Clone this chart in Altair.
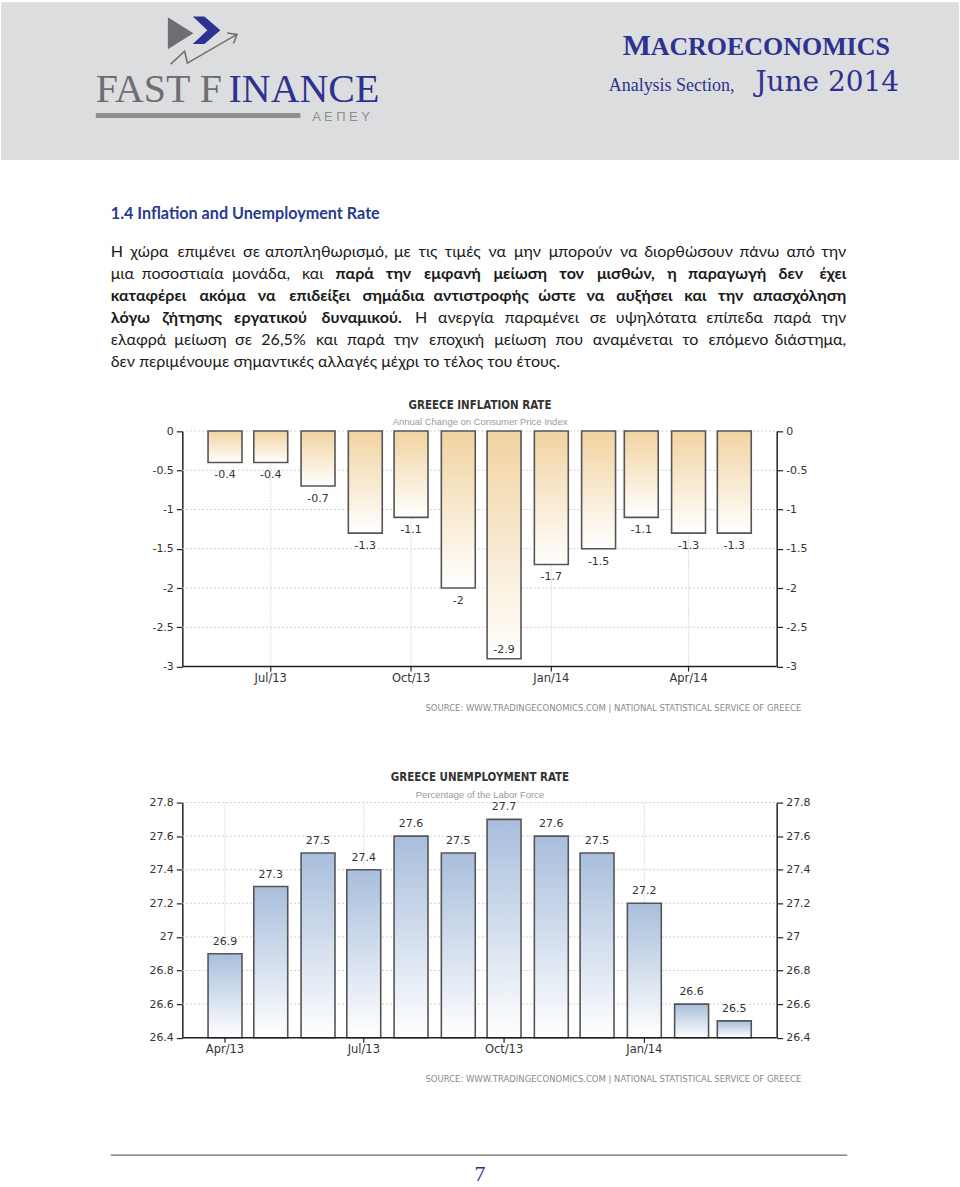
import altair as alt
import pandas as pd

# ---------------- data ----------------
infl_dates = ["2013-06-01", "2013-07-01", "2013-08-01", "2013-09-01", "2013-10-01", "2013-11-01",
              "2013-12-01", "2014-01-01", "2014-02-01", "2014-03-01", "2014-04-01", "2014-05-01"]
infl_values = [-0.4, -0.4, -0.7, -1.3, -1.1, -2.0, -2.9, -1.7, -1.5, -1.1, -1.3, -1.3]
infl_yticks = [0, -0.5, -1, -1.5, -2, -2.5, -3]
infl_xticks = ["2013-07-01", "2013-10-01", "2014-01-01", "2014-04-01"]

unemp_dates = ["2013-04-01", "2013-05-01", "2013-06-01", "2013-07-01", "2013-08-01", "2013-09-01",
               "2013-10-01", "2013-11-01", "2013-12-01", "2014-01-01", "2014-02-01", "2014-03-01"]
unemp_values = [26.9, 27.3, 27.5, 27.4, 27.6, 27.5, 27.7, 27.6, 27.5, 27.2, 26.6, 26.5]
unemp_yticks = [27.8, 27.6, 27.4, 27.2, 27, 26.8, 26.6, 26.4]
unemp_xticks = ["2013-04-01", "2013-07-01", "2013-10-01", "2014-01-01"]

heading = "1.4  Inflation and Unemployment Rate"
para_lines = [
    ([("Η χώρα επιμένει σε αποπληθωρισμό, με τις τιμές να μην μπορούν να διορθώσουν πάνω από την", "normal")], True),
    ([("μια ποσοστιαία μονάδα, και", "normal"),
      ("παρά την εμφανή μείωση τον μισθών, η παραγωγή δεν έχει", "bold")], True),
    ([("καταφέρει ακόμα να επιδείξει σημάδια αντιστροφής ώστε να αυξήσει και την απασχόληση", "bold")], True),
    ([("λόγω ζήτησης εργατικού δυναμικού.", "bold"),
      ("Η ανεργία παραμένει σε υψηλότατα επίπεδα παρά την", "normal")], True),
    ([("ελαφρά μείωση σε 26,5% και παρά την εποχική μείωση που αναμένεται το επόμενο διάστημα,", "normal")], True),
    ([("δεν περιμένουμε σημαντικές αλλαγές μέχρι το τέλος του έτους.", "normal")], False),
]
source_text = "SOURCE:  WWW.TRADINGECONOMICS.COM  |  NATIONAL  STATISTICAL  SERVICE  OF  GREECE"

# ---------------- layout / style ----------------
W = 960
X_LEFT, X_RIGHT = 181.7, 777.3
BAR_W = 34
NAVY = "#2e3192"
AXIS_COLOR = "#222"
BODY_FONT = "Lato, Carlito, 'Noto Sans', sans-serif"
SERIF = "'Liberation Serif', serif"
CHART_FONT = "'DejaVu Sans', sans-serif"
TITLE_FONT = "'Liberation Sans Narrow', 'DejaVu Sans Condensed', 'Liberation Sans', sans-serif"
TEXT_L, TEXT_R = 110, 847
BODY_SIZE = 16.1
LAST_LINE_PX = 450.0   # rendered width of the unjustified last line, used to calibrate word widths
ONE = pd.DataFrame({"k": [0]})

TOP_H = 390
INF_TOP, INF_Y0, INF_Y3 = 390, 429.7, 665.7
UNE_TOP, UNE_YMAX, UNE_YMIN = 665.7, 801.7, 1037.3


def txt(s, x, y, size, color="#222", font=BODY_FONT, weight="normal", align="left", baseline="alphabetic"):
    return alt.Chart(ONE).mark_text(
        fontSize=size, font=font, fontWeight=weight, color=color, align=align, baseline=baseline
    ).encode(x=alt.value(x), y=alt.value(y), text=alt.value(s))


def sym(path, x, y, side, color, filled=True, sw=1.5):
    if filled:
        m = alt.Chart(ONE).mark_point(shape=path, size=side * side, filled=True, fill=color,
                                      strokeWidth=0, opacity=1)
    else:
        m = alt.Chart(ONE).mark_point(shape=path, size=side * side, filled=False, stroke=color,
                                      strokeWidth=sw, opacity=1)
    return m.encode(x=alt.value(x), y=alt.value(y))


def box(x, x2, y, y2, color):
    return alt.Chart(ONE).mark_rect(color=color).encode(
        x=alt.value(x), x2=alt.value(x2), y=alt.value(y), y2=alt.value(y2))


# rough glyph-width model (em) used only to spread justified words across the column
CW = {" ": 0.26}
for group, wdt in [("ιίϊΐ,.;:'!|lij", 0.25), ("τtfrΙ", 0.38), ("εέσςζξcsγ", 0.45),
                   ("μπ", 0.56), ("φψ", 0.68), ("ωώmw", 0.74), ("0123456789", 0.53), ("%", 0.78)]:
    for ch in group:
        CW[ch] = wdt


def model_w(word, weight):
    w = sum(CW.get(ch, 0.66 if ch.isupper() else 0.52) for ch in word)
    return w * (1.06 if weight == "bold" else 1.0)


last_text = para_lines[-1][0][0][0]
CAL = LAST_LINE_PX / (BODY_SIZE * model_w(last_text, "normal"))

rows = []
line_y0, line_step = 250, 22.2
for i, (runs, just) in enumerate(para_lines):
    y = line_y0 + i * line_step
    if not just:
        for text, wgt in runs:
            rows.append({"w": text, "px": TEXT_L, "py": y, "weight": wgt, "al": "left"})
        continue
    words = [(wd, wgt) for text, wgt in runs for wd in text.split(" ") if wd]
    widths = [CAL * BODY_SIZE * model_w(wd, wgt) for wd, wgt in words]
    gap = (TEXT_R - TEXT_L - sum(widths)) / (len(words) - 1)
    x = TEXT_L
    for k, ((wd, wgt), ww) in enumerate(zip(words, widths)):
        if k == 0:
            rows.append({"w": wd, "px": TEXT_L, "py": y, "weight": wgt, "al": "left"})
        elif k == len(words) - 1:
            rows.append({"w": wd, "px": TEXT_R, "py": y, "weight": wgt, "al": "right"})
        else:
            rows.append({"w": wd, "px": x + ww / 2, "py": y, "weight": wgt, "al": "center"})
        x += ww + gap
para_df = pd.DataFrame(rows)

para_layers = []
for wgt in ["normal", "bold"]:
    for al in ["left", "center", "right"]:
        para_layers.append(
            alt.Chart(para_df).transform_filter(
                f"datum.weight == '{wgt}' && datum.al == '{al}'"
            ).mark_text(fontSize=BODY_SIZE, font=BODY_FONT, fontWeight=wgt, color="#1a1a1a",
                        align=al, baseline="middle").encode(
                x=alt.X("px:Q", scale=None), y=alt.Y("py:Q", scale=None), text="w:N")
        )

# ---------------- top panel: header + text ----------------
top_layers = [
    box(0, W, 0, 158, "#dcdddf"),
    sym("M-0.8,-1L0.8,0L-0.8,1Z", 180, 31, 32, "#6d6e71"),
    sym("M-0.95,-0.95L-0.15,-0.95L0.95,0L-0.15,0.95L-0.95,0.95L0.05,0Z", 206, 28, 29, NAVY),
    sym("M-1,0.43L-0.6,0.06L-0.52,0.4L0.86,-0.4M0.62,-0.46L0.9,-0.42L0.8,-0.16", 205, 47, 70, "#707070",
        filled=False, sw=1.6),
    txt("FAST F", 95, 100, 40, "#6d6e71", SERIF),
    txt("INANCE", 228, 100, 40, NAVY, SERIF),
    box(95, 300, 111, 116, "#8d8e90"),
    txt("Α Ε Π Ε Υ", 312, 119, 13, "#8d8e90", "'Liberation Sans', sans-serif"),
    txt("M", 623, 53, 30, NAVY, SERIF, "bold"),
    txt("ACROECONOMICS", 651, 53, 26, NAVY, SERIF, "bold"),
    txt("Analysis Section,", 609, 89, 18, NAVY, SERIF),
    txt("June 2014", 900, 89, 28, NAVY, "'DejaVu Serif', serif", align="right"),
    txt(heading, 110, 212, 16.2, "#2a3a8e", BODY_FONT, "bold", baseline="middle"),
] + para_layers
top = alt.layer(*top_layers).properties(width=W, height=TOP_H)


# ---------------- bar panels ----------------
def ms(t):
    return int(pd.Timestamp(t).value // 10**6)


def bar_panel(dates, values, yticks, xticks, base, top_color, H, y_hi, title, subtitle,
              title_y, sub_y, src_y, above, extra=None):
    df = pd.DataFrame({"date": dates, "value": values, "label": [f"{v:g}" for v in values]})
    tick_df = pd.DataFrame({"date": xticks})
    t0 = pd.Timestamp(dates[0]) - pd.Timedelta(days=28.0)
    t1 = pd.Timestamp(dates[-1]) + pd.Timedelta(days=27.8)
    xs = alt.Scale(type="utc", domain=[ms(t0), ms(t1)], range=[X_LEFT, X_RIGHT], nice=False, padding=0)
    ys = alt.Scale(domain=[min(yticks), max(yticks)], range=[H, y_hi], nice=False, zero=False, padding=0)
    ax_common = dict(domainColor=AXIS_COLOR, tickColor=AXIS_COLOR, domainWidth=1.5, tickWidth=1.2,
                     labelColor="#333", labelFont=CHART_FONT, labelFontSize=11, grid=False, title=None,
                     labelFlush=False, labelOverlap=False, labelBound=False)
    y_ax_common = dict(values=yticks, tickSize=6, labelPadding=3, labelExpr="toString(datum.value)",
                       **ax_common)
    grad = {"gradient": "linear", "x1": 0, "x2": 0, "y1": 0, "y2": 1,
            "stops": [{"offset": 0, "color": top_color}, {"offset": 1, "color": "#ffffff"}]}
    xenc = alt.X("date:T", scale=xs, axis=None)

    hgrid = alt.Chart(pd.DataFrame({"tick": yticks})).mark_rule(
        color="#cfcfcf", strokeDash=[2, 2], strokeWidth=1
    ).encode(
        y=alt.Y("tick:Q", scale=ys, axis=alt.Axis(orient="right", offset=X_RIGHT - W, **y_ax_common)),
        x=alt.value(X_LEFT), x2=alt.value(X_RIGHT),
    )
    vgrid = alt.Chart(tick_df).mark_rule(color="#dedede", strokeWidth=1, strokeDash=[2, 1]).encode(
        x=xenc, y=alt.value(y_hi), y2=alt.value(H))
    bars = alt.Chart(df).mark_bar(
        width=BAR_W, fill=grad, stroke="#555555", strokeWidth=1.6
    ).encode(
        x=xenc,
        y=alt.Y("value:Q", scale=ys, axis=alt.Axis(orient="left", offset=-X_LEFT, **y_ax_common)),
        y2=alt.datum(base),
    )
    # bottom (time) axis: domain line, ticks and labels placed through the x scale
    x_domain = alt.Chart(ONE).mark_rule(color=AXIS_COLOR, strokeWidth=1.5).encode(
        x=alt.value(X_LEFT), x2=alt.value(X_RIGHT), y=alt.value(H))
    x_ticks = alt.Chart(tick_df).mark_rule(color=AXIS_COLOR, strokeWidth=1.2).encode(
        x=xenc, y=alt.value(H), y2=alt.value(H + 5))
    x_labels = alt.Chart(tick_df).transform_calculate(
        lab="utcFormat(toDate(datum.date), '%b/%y')"
    ).mark_text(fontSize=11.5, font=CHART_FONT, color="#333", baseline="middle").encode(
        x=xenc, y=alt.value(H + 12.5), text="lab:N")

    lab_kw = dict(fontSize=11, font=CHART_FONT, color="#333")
    enc = dict(x=xenc, y=alt.Y("value:Q", scale=ys, axis=None), text="label:N")
    if above:
        labels = [alt.Chart(df).mark_text(dy=-12, **lab_kw).encode(**enc)]
    else:
        labels = [
            alt.Chart(df).transform_filter("datum.value > -2.6").mark_text(dy=13, **lab_kw).encode(**enc),
            alt.Chart(df).transform_filter("datum.value <= -2.6").mark_text(dy=-9, **lab_kw).encode(**enc),
        ]
    texts = [
        txt(title, 480, title_y, 11.5, "#333", TITLE_FONT, "bold", align="center", baseline="middle"),
        txt(subtitle, 480, sub_y, 9.5, "#9a9a9a", "'Liberation Sans', sans-serif", align="center",
            baseline="middle"),
        txt(source_text, 802, src_y, 8.5, "#8a8a8a", CHART_FONT, align="right", baseline="middle"),
    ]
    layers = [hgrid, vgrid, bars, x_domain, x_ticks, x_labels] + labels + texts + (extra or [])
    return alt.layer(*layers).resolve_axis(y="independent").properties(width=W, height=H)


infl = bar_panel(infl_dates, infl_values, infl_yticks, infl_xticks, 0, "#f1d3a0",
                 INF_Y3 - INF_TOP, INF_Y0 - INF_TOP,
                 "GREECE INFLATION RATE", "Annual Change on Consumer Price Index",
                 405 - INF_TOP, 421 - INF_TOP, 707 - INF_TOP, above=False)

footer = [
    alt.Chart(ONE).mark_rule(color="#444", strokeWidth=1).encode(
        x=alt.value(110), x2=alt.value(848), y=alt.value(1155 - UNE_TOP)),
    txt("7", 480, 1181 - UNE_TOP, 22, NAVY, SERIF, align="center"),
]
unemp = bar_panel(unemp_dates, unemp_values, unemp_yticks, unemp_xticks, 26.4, "#a8bedc",
                  UNE_YMIN - UNE_TOP, UNE_YMAX - UNE_TOP,
                  "GREECE UNEMPLOYMENT RATE", "Percentage of the Labor Force",
                  777 - UNE_TOP, 794 - UNE_TOP, 1079 - UNE_TOP, above=True, extra=footer)

chart = alt.vconcat(top, infl, unemp, spacing=0, bounds="flush").properties(
    padding=0, background="white"
).configure_view(stroke="transparent")

chart.save("out.html", embed_options={"renderer": "svg", "actions": False})
